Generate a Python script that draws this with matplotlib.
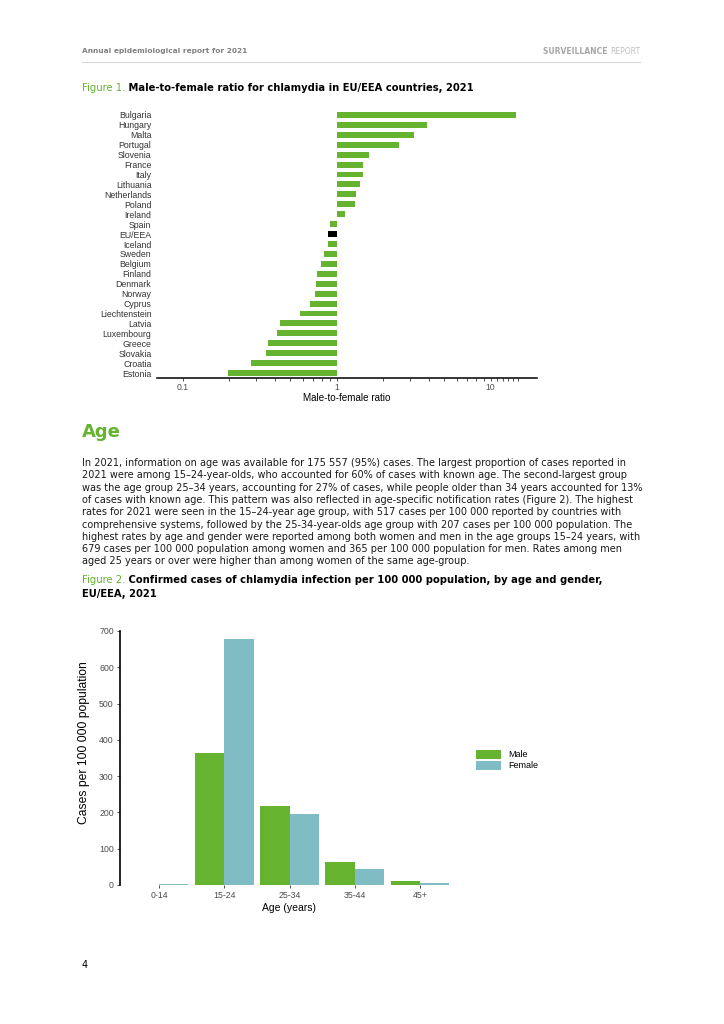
import matplotlib
matplotlib.use('Agg')
import matplotlib.pyplot as plt
from matplotlib.lines import Line2D
from matplotlib.ticker import FixedLocator, NullFormatter
import numpy as np

# Figure 1 data: male-to-female ratio
countries = ['Bulgaria', 'Hungary', 'Malta', 'Portugal', 'Slovenia', 'France', 'Italy',
             'Lithuania', 'Netherlands', 'Poland', 'Ireland', 'Spain', 'EU/EEA', 'Iceland',
             'Sweden', 'Belgium', 'Finland', 'Denmark', 'Norway', 'Cyprus', 'Liechtenstein',
             'Latvia', 'Luxembourg', 'Greece', 'Slovakia', 'Croatia', 'Estonia']
ratio = [14.7, 3.84, 3.16, 2.53, 1.61, 1.49, 1.48, 1.41, 1.34, 1.31, 1.14, 0.91, 0.88, 0.88,
         0.83, 0.79, 0.74, 0.73, 0.72, 0.67, 0.575, 0.43, 0.41, 0.36, 0.346, 0.277, 0.196]
ratio_ticks = [0.1, 1, 10]
ratio_ticklabels = ['0.1', '1', '10']

# Figure 2 data: cases per 100 000 by age and gender
age_groups = ['0-14', '15-24', '25-34', '35-44', '45+']
male_rate = [0.4, 365, 218, 63, 12]
female_rate = [4, 679, 196, 44, 5]

GREEN = '#65b32e'
TEAL = '#7fbcc3'
W, H = 724, 1024

def fx(x):
    return x / W

def fy(y):
    return 1 - y / H

fig = plt.figure(figsize=(7.24, 10.24), dpi=100)
fig.patch.set_facecolor('white')
renderer = fig.canvas.get_renderer()

page_font = 'DejaVu Sans'
chart_font = 'Liberation Sans'

def two_part(x, y, a, b, ca, cb, wa='bold', wb='bold', **kw):
    t = fig.text(x, y, a, color=ca, weight=wa, family=page_font, **kw)
    bb = t.get_window_extent(renderer)
    fig.text(bb.x1 / fig.bbox.width, y, b, color=cb, weight=wb, family=page_font, **kw)

# header
fig.text(fx(82), fy(51), 'Annual epidemiological report for 2021', fontsize=5.35,
         weight='bold', color='#808080', va='center', family=page_font)
t_rep = fig.text(fx(640), fy(51), 'REPORT', fontsize=5.5, color='#c0c0c0',
                 ha='right', va='center', family=page_font)
bb = t_rep.get_window_extent(renderer)
fig.text(bb.x0 / fig.bbox.width, fy(51), 'SURVEILLANCE ', fontsize=5.5, weight='bold',
         color='#a6a6a6', ha='right', va='center', family=page_font)
fig.add_artist(Line2D([fx(82), fx(640)], [fy(62), fy(62)], color='#d9d9d9', lw=0.8))

# figure 1 title
two_part(fx(82), fy(88), 'Figure 1.', ' Male-to-female ratio for chlamydia in EU/EEA countries, 2021',
         GREEN, 'black', wa='normal', fontsize=7.2, va='center')

# Figure 1 chart
ax1 = fig.add_axes([fx(157), fy(378), (537 - 157) / W, (378 - 110) / H])
ypos = np.arange(len(countries))
bar_colors = ['black' if c == 'EU/EEA' else GREEN for c in countries]
ax1.barh(ypos, [v - 1 for v in ratio], left=1, height=0.6, color=bar_colors)
ax1.set_xscale('log')
ax1.set_xlim(0.068, 20)
ax1.set_ylim(len(countries) - 0.5, -0.5)
ax1.set_yticks(ypos)
ax1.set_yticklabels(countries, fontsize=6.3, color='#333333', family=chart_font)
ax1.tick_params(axis='y', length=0, pad=4)
ax1.set_xticks(ratio_ticks)
ax1.set_xticklabels(ratio_ticklabels, family=chart_font)
minor = [0.2, 0.3, 0.4, 0.5, 0.6, 0.7, 0.8, 0.9, 2, 3, 4, 5, 6, 7, 8, 9, 11, 12, 13, 14, 15]
ax1.xaxis.set_minor_locator(FixedLocator(minor))
ax1.xaxis.set_minor_formatter(NullFormatter())
ax1.tick_params(axis='x', which='both', length=2.2, width=0.6, color='#333333',
                labelsize=6.2, labelcolor='#4d4d4d', pad=1.5)
for s in ['top', 'right', 'left']:
    ax1.spines[s].set_visible(False)
ax1.spines['bottom'].set_linewidth(1.1)
ax1.set_xlabel('Male-to-female ratio', fontsize=7.1, family=chart_font, labelpad=0.5)
ax1.patch.set_alpha(0)

# Age section
fig.text(fx(82), fy(432), 'Age', fontsize=13, weight='bold', color=GREEN, va='center',
         family=page_font)
body = [
    'In 2021, information on age was available for 175 557 (95%) cases. The largest proportion of cases reported in',
    '2021 were among 15\u201324-year-olds, who accounted for 60% of cases with known age. The second-largest group',
    'was the age group 25\u201334 years, accounting for 27% of cases, while people older than 34 years accounted for 13%',
    'of cases with known age. This pattern was also reflected in age-specific notification rates (Figure 2). The highest',
    'rates for 2021 were seen in the 15\u201324-year age group, with 517 cases per 100 000 reported by countries with',
    'comprehensive systems, followed by the 25-34-year-olds age group with 207 cases per 100 000 population. The',
    'highest rates by age and gender were reported among both women and men in the age groups 15\u201324 years, with',
    '679 cases per 100 000 population among women and 365 per 100 000 population for men. Rates among men',
    'aged 25 years or over were higher than among women of the same age-group.',
]
for i, line in enumerate(body):
    fig.text(fx(82), fy(463 + 12.3 * i), line, fontsize=7.0, color='#1a1a1a', va='center',
             family=page_font)

two_part(fx(82), fy(580), 'Figure 2.', ' Confirmed cases of chlamydia infection per 100 000 population, by age and gender,',
         GREEN, 'black', wa='normal', fontsize=7.2, va='center')
fig.text(fx(82), fy(594), 'EU/EEA, 2021', fontsize=7.2, weight='bold', va='center', family=page_font)

# Figure 2 chart
ax2 = fig.add_axes([fx(120), fy(885), (459 - 120) / W, (885 - 631) / H])
x = np.arange(len(age_groups))
ax2.bar(x - 0.225, male_rate, 0.45, color=GREEN, label='Male')
ax2.bar(x + 0.225, female_rate, 0.45, color=TEAL, label='Female')
ax2.set_xlim(-0.6, len(age_groups) - 0.4)
ax2.set_ylim(0, 700)
ax2.set_yticks(np.arange(0, 701, 100))
ax2.set_xticks(x)
ax2.set_xticklabels(age_groups, family=chart_font)
for lab in ax2.get_yticklabels():
    lab.set_family(chart_font)
ax2.tick_params(axis='both', length=2.5, width=0.6, color='#333333', labelsize=6.3,
                labelcolor='#4d4d4d', pad=2)
for s in ['top', 'right', 'bottom']:
    ax2.spines[s].set_visible(False)
ax2.spines['left'].set_linewidth(1.2)
ax2.set_xlabel('Age (years)', fontsize=7.5, family=chart_font, labelpad=2)
ax2.set_ylabel('Cases per 100 000 population', fontsize=8.7, family=chart_font)
ax2.yaxis.set_label_coords(-0.088, 0.56)
ax2.patch.set_alpha(0)
fig.legend(loc='center left', bbox_to_anchor=(fx(476), fy(760)), frameon=False,
           prop={'family': chart_font, 'size': 6.5}, handlelength=2.8, handleheight=1.3,
           labelspacing=0.12, handletextpad=0.8, borderpad=0, borderaxespad=0)

fig.text(fx(82), fy(965), '4', fontsize=7, va='center', family=page_font)

fig.savefig('out.png', dpi=100)
